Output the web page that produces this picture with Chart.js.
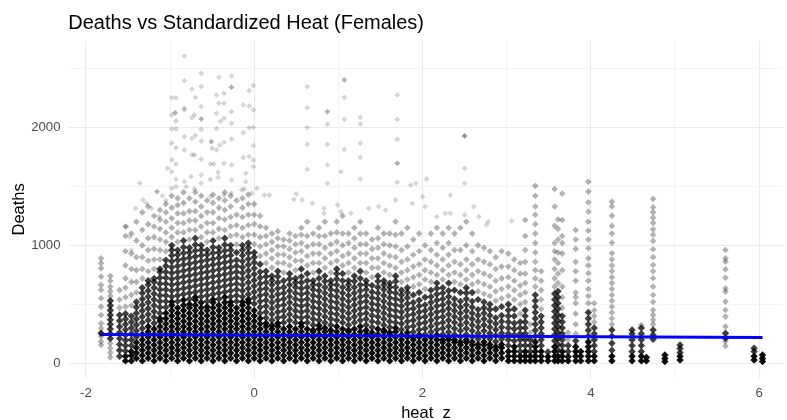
<!DOCTYPE html>
<html>
<head>
<meta charset="utf-8">
<script src="https://cdn.jsdelivr.net/npm/chart.js@4.4.1/dist/chart.umd.min.js"></script>
<style>
  html, body { margin: 0; padding: 0; background: #ffffff; overflow: hidden; }
  #wrap { width: 787px; height: 420px; position: relative; }
</style>
</head>
<body>
<div id="wrap"><canvas id="c" width="787" height="420"></canvas></div>
<script>
// ---------------- data ----------------
const chartTitle = "Deaths vs Standardized Heat (Females)";
const xTitle = "heat_z";
const yTitle = "Deaths";
const xGridValues = [-2, -1, 0, 1, 2, 3, 4, 5, 6];
const xTickValues = [-2, 0, 2, 4, 6];
const yGridValues = [0, 500, 1000, 1500, 2000, 2500];
const yTickValues = [0, 1000, 2000];

// columns of observations (heat_z position of each vertical stripe)
const stripeZ = [
  -1.82, -1.71, -1.60, -1.53,
  -1.46, -1.40, -1.33, -1.26, -1.19, -1.12, -1.05, -0.98, -0.91, -0.84, -0.77, -0.70,
  -0.63, -0.56, -0.49, -0.42, -0.35, -0.28, -0.21, -0.14, -0.07, 0.00, 0.07, 0.14,
  0.21, 0.28, 0.35, 0.42, 0.49, 0.56, 0.63, 0.70, 0.77, 0.84, 0.91, 0.98,
  1.05, 1.12, 1.19, 1.26, 1.33, 1.40, 1.47, 1.54, 1.61, 1.68, 1.75, 1.82,
  1.89, 1.96, 2.03, 2.10, 2.17, 2.24, 2.31, 2.38, 2.45, 2.52, 2.59, 2.66,
  2.73, 2.80, 2.87, 2.94,
  3.02, 3.09, 3.16, 3.22, 3.28, 3.34, 3.41, 3.49, 3.57, 3.61, 3.66, 3.73,
  3.82, 3.88, 3.97, 4.04, 4.25, 4.49, 4.60, 4.66, 4.74, 4.88, 5.06, 5.60, 5.94, 6.04
];

// densest (near-black) part of each stripe
const stripeCoreDeaths = [
  [], [], [], [20,60],
  [20,65,100], [42,87,132,177], [20,65,110,155,200,245], [42,87,132,177,222,267,312],
  [20,65,110,155,200,245,290], [42,87,132,177,222,267,312,357,380],
  [20,65,110,155,200,245,290,335,380,425], [42,87,132,177,222,267,312,357,402,447,492,520],
  [20,65,110,155,200,245,290,335,380,425,470], [42,87,132,177,222,267,312,357,402,447,492,537],
  [20,65,110,155,200,245,290,335,380,425,470,500], [42,87,132,177,222,267,312,357,402,447,492,537,560],
  [20,65,110,155,200,245,290,335,380,425,470,515], [42,87,132,177,222,267,312,357,402,447,480],
  [20,65,110,155,200,245,290,335,380,425,470,515,540], [42,87,132,177,222,267,312,357,402,447,492],
  [20,65,110,155,200,245,290,335,380,425,470,515,560], [42,87,132,177,222,267,312,357,402,447,492,520],
  [20,65,110,155,200,245,290,335,380,425,470], [42,87,132,177,222,267,312,357,402,447,492,520],
  [20,65,110,155,200,245,290,335,380,425,470,515,540], [42,87,132,177,222,267,312,357,402,447],
  [20,65,110,155,200,245,290,335,380], [42,87,132,177,222,267,312,340],
  [20,65,110,155,200,245,290,320], [42,87,132,177,222,267,312,340],
  [20,65,110,155,200,245,290], [42,87,132,177,222,267,312],
  [20,65,110,155,200,245,290], [42,87,132,177,222,267,312,340],
  [20,65,110,155,200,245,290], [42,87,132,177,222,267,280],
  [20,65,110,155,200,245,290,320], [42,87,132,177,222,267,300],
  [20,65,110,155,200,245,280], [42,87,132,177,222,267,312],
  [20,65,110,155,200,245,290], [42,87,132,177,222,267,280],
  [20,65,110,155,200,245,290], [42,87,132,177,222,267,312],
  [20,65,110,155,200,245,280], [42,87,132,177,222,260],
  [20,65,110,155,200,245,290], [42,87,132,177,222,267,280],
  [20,65,110,155,200,245,260], [42,87,132,177,222,267,300],
  [20,65,110,155,200,240], [42,87,132,177,222,260],
  [20,65,110,155,200,220], [42,87,132,177,222,240],
  [20,65,110,155,200], [42,87,132,177,220],
  [20,65,110,155,200,240], [42,87,132,177,200],
  [20,65,110,155,200,220], [42,87,132,177,200],
  [20,65,110,155,180], [42,87,132,177,200],
  [20,65,110,155,180], [42,87,132,160],
  [20,65,110,155,180], [42,87,132,160],
  [20,65,110,140], [42,87,132,160],
  [20,60,100], [20,60,100,140], [20,60], [20,60,100], [20,60], [20,60,100,140,180],
  [20,60,100], [20,55], [20,60,100,140], [20,60], [20,60,100], [20,55],
  [20,60,100,140], [20,60,100], [20,60,100,140,180], [20,60], [20,60], [20,60],
  [20,60], [20,50], [], [14,40,70], [28,60], [], [28,60], [14,40,70]
];

// dark grey body of each stripe
const stripeMidDeaths = [
  [254], [530,490,450,410,370,330,290,250,210], [60,110,160,210,260,310,360,410], [105,150,195,240,285,330,375,420],
  [150,200,250,300,350,400], [225,275,325,375,425,475,520], [295,345,395,445,495,545,595,640],
  [365,415,465,515,565,615,665,700], [340,390,440,490,540,590,640,690,720],
  [425,475,525,575,625,675,725,775,800], [475,525,575,625,675,725,775,825,875],
  [565,615,665,715,765,815,865,915,960,1000], [525,575,625,675,725,775,825,875,920,960],
  [585,635,685,735,785,835,885,935,985,1040], [545,595,645,695,745,795,845,895,940,980],
  [605,655,705,755,805,855,905,955,1005,1060], [565,615,665,715,765,815,865,915,960,1000],
  [525,575,625,675,725,775,825,875,920,960], [585,635,685,735,785,835,885,935,985,1040],
  [545,595,645,695,745,795,845,895,940,980], [605,655,705,755,805,855,905,955,1005,1060],
  [565,615,665,715,765,815,865,915,960,1000], [525,575,625,675,725,775,825,875,940],
  [565,615,665,715,765,815,865,915,960,1000], [585,635,685,735,785,835,885,935,980,1020],
  [505,555,605,655,705,755,805,855,900,940], [425,475,525,575,625,675,725,775,840],
  [385,435,485,535,585,635,685,735,780], [365,415,465,515,565,615,665,705,740],
  [385,435,485,535,585,635,685,735,780], [345,395,445,495,545,595,645,700],
  [365,415,465,515,565,615,665,715,760], [345,395,445,495,545,595,645,685,720],
  [385,435,485,535,585,635,685,735,800], [345,395,445,495,545,595,645,700,760],
  [325,375,425,475,525,575,625,665,700], [365,415,465,515,565,615,665,720,780],
  [345,395,445,495,545,595,645,695,740], [325,375,425,475,525,575,625,665,700],
  [365,415,465,515,565,615,665,715,760,800], [345,395,445,495,545,595,645,700,760],
  [325,375,425,475,525,575,625,665,700], [345,395,445,495,545,595,645,695,740],
  [365,415,465,515,565,615,665,720,780], [325,375,425,475,525,575,625,665,700],
  [305,355,405,455,505,555,605,660], [345,395,445,495,545,595,645,695,740],
  [325,375,425,475,525,575,625,665,700], [305,355,405,455,505,555,605,645,680],
  [345,395,445,495,545,595,645,695,740], [285,335,385,435,485,535,580,620],
  [305,355,405,455,505,555,600,640], [265,315,365,415,465,515,580],
  [285,335,385,435,485,535,600], [245,295,345,395,445,495,560],
  [265,315,365,415,465,515,565,620], [285,335,385,435,485,535,585,635,680],
  [245,295,345,395,445,495,545,595,640], [265,315,365,415,465,515,565,615,680],
  [245,295,345,395,445,495,545,620], [225,275,325,375,425,475,525,600],
  [245,295,345,395,445,495,545,595,640], [225,275,325,375,425,475,525,600],
  [205,255,305,355,405,455,540], [225,275,325,375,425,470,520],
  [205,255,305,355,405,455,500], [185,235,285,335,385,460], [205,255,305,355,405,480],
  [150,200,250,300,350,400,450,500], [190,240,290,340,400,460], [100,150,200,250,300,350],
  [150,200,250,300,350,400,450], [100,150,200], [230,280,330,380,430,480,530,580],
  [150,200,250,300,350,400], [95], [190,240,290,340,390,440,490,540,590],
  [110,160,210,260,310,360,410,460,510,560,610], [150,200,250,300,350,400], [100,150],
  [190], [], [230,280,330,380,430], [100,150,200,250,300], [110,170,230,283],
  [100,150,200,250,283], [100,150,200,250,300], [], [203,240,283], [], [90,125,155],
  [212,254], [100,127], []
];

// sparse light grey upper part of each stripe
const stripeLightDeaths = [
  [890,848,805,735,664,622,551,480,410,339,297,254,226,184,155],
  [740,700,650,610,570,170,130,90,50], [470,540,620], [480,560,640,720,830,950,1080,1160],
  [490,580,690,800,930,1100], [600,690,790,900,1040,1200], [720,800,900,1000,1130,1280],
  [780,870,960,1060,1180,1330], [800,880,970,1070,1160,1250], [880,960,1050,1140,1220,1300],
  [950,1030,1110,1200,1280,1350], [1070,1150,1230,1320,1420], [1030,1110,1190,1270,1340,1400],
  [1110,1190,1270,1360,1450], [1050,1130,1210,1290,1400], [1130,1210,1290,1370,1450],
  [1070,1160,1250,1330,1420], [1030,1110,1190,1280,1380], [1110,1190,1280,1360,1430],
  [1060,1140,1230,1320,1400], [1130,1220,1300,1380,1450], [1080,1160,1240,1330,1420],
  [1010,1090,1170,1260,1380], [1070,1150,1240,1320,1400], [1090,1170,1260,1350,1430],
  [1010,1090,1180,1260,1350], [910,990,1070,1160,1250], [850,930,1010,1080,1150],
  [810,890,960,1030,1100], [850,920,990,1060,1120], [770,850,920,990,1050],
  [830,900,970,1040,1100], [790,870,940,1010,1080], [870,950,1020,1090,1150],
  [830,910,990,1080,1200], [770,850,930,1010,1100], [850,930,1010,1080,1150],
  [810,890,980,1080,1200], [770,850,930,1010,1100], [870,950,1030,1110,1200],
  [830,910,1000,1100,1250], [770,850,930,1020,1100], [810,890,980,1060,1150],
  [850,930,1010,1100,1200], [770,850,930,1010,1100], [730,810,890,970,1050],
  [810,890,980,1060,1150], [770,850,930,1010,1100], [750,830,910,1000,1100],
  [810,900,990,1090,1200], [690,770,860,960,1100], [710,790,880,990,1150],
  [650,730,820,920,1050], [670,750,840,950,1100], [630,710,790,880,1000],
  [690,770,860,960,1100], [750,830,920,1020,1150], [710,790,880,980,1100],
  [750,830,920,1020,1150], [690,770,860,960,1100], [670,750,840,960,1150],
  [710,790,880,1000,1200], [670,750,840,950,1100], [610,690,780,880,1000],
  [590,670,760,860,980], [570,650,740,840,950], [530,610,700,800,900], [550,630,720,820,950],
  [570,650,730,820,930], [540,620,700,790,880], [420,500,580,660,760,850],
  [520,600,680,760,860,960,1080,1215], [260,330],
  [650,720,790,860,940,1020,1100,1180,1260,1330,1420,1505], [460,540,620,700,780], [],
  [650,720,800,880,950,1020,1165,1330,1478], [680,760,850,940,1050,1140,1220],
  [470,560,650,790,930,1020,1080,1215,1440], [200,260],
  [250,330,420,510,560,600,700,780,860,970,1050,1130], [],
  [510,570,630,700,763,830,890,975,1050,1125,1200,1286,1365,1456,1540], [350,400,450,509],
  [330,380,430,480,530,579,630,680,730,780,830,880,933,1023,1100,1165,1252,1330,1371],
  [], [325], [],
  [330,367,410,452,520,579,650,721,780,834,900,967,1037,1090,1136,1190,1235,1280,1323,1394],
  [], [], [147,184,311,396,452,523,608,636,726,797,862,890,961], [], []
];

// isolated high observations
const outlierZ = [
  -0.83,-0.63,-0.42,-0.27,-0.83,-0.74,-0.63,-0.36,-0.45,-0.27,-0.27,-0.06,-0.01,-0.98,-0.93,-0.70,
  -0.83,-0.83,-0.98,-0.94,-0.94,-0.63,-0.42,-0.36,-0.45,-0.27,-0.13,-0.06,-0.01,-0.93,-0.74,-0.71,
  -0.63,-0.63,-0.40,-0.36,-0.27,-0.98,-0.93,-0.63,-0.45,-0.13,-0.06,-0.01,-0.83,-0.74,-0.70,-0.63,
  -0.51,-0.51,-0.50,-0.45,-0.41,-0.36,-0.27,-0.98,-0.93,-0.83,-0.74,-0.71,-0.63,-0.01,-0.13,-0.06,
  -0.98,-0.93,-0.52,-0.48,-0.36,-0.27,-0.01,-0.01,-1.03,-0.98,-0.43,-0.10,-0.75,-0.63,-0.93,-0.83,
  -0.52,-0.43,-0.27,-0.10,-1.15,-0.98,-0.93,-0.81,-0.71,-0.63,-0.52,-0.36,-0.27,-0.15,-0.12,-0.03,
  0.03,0.12,0.18,
  -1.36,-1.41,-1.32,-1.28,-1.16,-1.22,-1.13,-1.52,-1.48,-1.46,-1.05,-1.09,
  0.63,0.63,0.63,0.63,0.63,0.87,0.87,0.87,0.87,0.87,0.87,1.07,1.07,1.07,1.07,1.07,1.03,
  1.26,1.26,1.26,1.26,1.26,1.70,1.70,1.70,1.70,1.70,1.70,2.50,2.50,2.50,2.50,2.50,
  1.86,1.92,2.05,2.33,3.06,0.47,0.50,
  0.57,0.69,0.83,0.83,0.99,1.03,1.15,1.36,1.48,1.56,1.68,1.88,2.00,2.03,2.17,2.27,2.33,2.50,2.61,2.67,2.76,2.78
];
const outlierDeaths = [
  2606,2459,2425,2437,2397,2326,2346,2290,2276,2341,2341,2312,2355,2253,2253,2256,
  2162,2150,2106,2125,2125,2177,2205,2205,2120,2134,2191,2182,2148,2055,2083,2106,
  2072,2072,2052,2078,2035,1987,1987,1984,1990,1956,1998,2001,1922,1908,1931,1885,
  1880,1880,1823,1809,1851,1874,1902,1866,1829,1809,1767,1767,1730,1846,1744,1753,
  1724,1690,1690,1690,1696,1682,1724,1668,1654,1625,1620,1611,1583,1597,1560,1540,
  1560,1577,1555,1540,1456,1484,1498,1498,1478,1526,1413,1427,1442,1470,1478,1442,
  1484,1427,1427,
  1526,1314,1385,1357,1456,1314,1244,1159,1074,961,1380,1420,
  2346,2168,1999,1857,1645,2134,2134,2027,1857,1682,1526,2403,2403,2256,2069,1815,1625,
  2086,2030,1866,1747,1563,2276,2069,1900,1696,1696,1535,1928,1928,1928,1654,1526,
  1512,1526,1563,1427,1207,1390,1436,
  1385,1357,1314,1272,1343,1286,1272,1314,1329,1300,1385,1357,1413,1329,1244,1272,1272,1258,1329,1244,1173,1201
];

// fitted trend (blue line)
const trendZ = [-1.82, 6.04];
const trendDeaths = [244, 219];

// ---------------- build the chart ----------------
function stripePoints(lists) {
  const pts = [];
  stripeZ.forEach((z, i) => (lists[i] || []).forEach(d => pts.push({ x: z, y: d })));
  return pts;
}
const outlierPoints = outlierZ.map((z, i) => ({ x: z, y: outlierDeaths[i] }));
const trendPoints = trendZ.map((z, i) => ({ x: z, y: trendDeaths[i] }));

const FONT = "'Liberation Sans', Arial, Helvetica, sans-serif";
function pointSet(data, alpha, radius, order) {
  const col = 'rgba(0,0,0,' + alpha + ')';
  return { type: 'scatter', data, pointStyle: 'rectRot', pointRadius: radius, pointHoverRadius: radius,
           pointBorderWidth: 0, borderWidth: 0, backgroundColor: col, pointBackgroundColor: col, order };
}

const titlePlugin = {
  id: 'ggTitle',
  afterDraw(chart) {
    const ctx = chart.ctx;
    ctx.save();
    ctx.font = "20px " + FONT;
    ctx.fillStyle = '#000000';
    ctx.textAlign = 'left';
    ctx.textBaseline = 'alphabetic';
    ctx.fillText(chartTitle, 68.3, 29.3);
    ctx.restore();
  }
};

const majorX = v => xTickValues.includes(v);
const majorY = v => yTickValues.includes(v);

new Chart(document.getElementById('c'), {
  type: 'scatter',
  data: {
    datasets: [
      { type: 'line', data: trendPoints, borderColor: '#0000ff', borderWidth: 3, pointRadius: 0, fill: false, tension: 0, order: 0 },
      pointSet(outlierPoints, 0.17, 2.9, 1),
      pointSet(stripePoints(stripeCoreDeaths), 0.95, 3.7, 2),
      pointSet(stripePoints(stripeMidDeaths), 0.76, 3.7, 3),
      pointSet(stripePoints(stripeLightDeaths), 0.3, 3.3, 4)
    ]
  },
  options: {
    responsive: false,
    animation: false,
    events: [],
    layout: { padding: { top: 40.7, right: 0, bottom: 0, left: 0 } },
    plugins: { legend: { display: false }, tooltip: { enabled: false }, title: { display: false } },
    scales: {
      x: {
        type: 'linear',
        min: -2.207, max: 6.287,
        border: { display: false },
        afterBuildTicks: s => { s.ticks = xGridValues.map(v => ({ value: v })); },
        grid: {
          drawTicks: false,
          color: c => majorX(c.tick.value) ? '#ebebeb' : '#f1f1f1',
          lineWidth: c => majorX(c.tick.value) ? 1.1 : 0.8
        },
        ticks: {
          autoSkip: false, maxRotation: 0, padding: 7,
          color: '#4d4d4d', font: { family: FONT, size: 13.2 },
          callback: v => majorX(v) ? String(v) : ''
        },
        title: { display: true, text: xTitle, color: '#000000', font: { family: FONT, size: 16.5, lineHeight: 1.2 }, padding: { top: 0, bottom: -3.2 } },
        afterFit: s => { s.height = 42; }
      },
      y: {
        type: 'linear',
        min: -125, max: 2736,
        border: { display: false },
        afterBuildTicks: s => { s.ticks = yGridValues.map(v => ({ value: v })); },
        grid: {
          drawTicks: false,
          color: c => majorY(c.tick.value) ? '#ebebeb' : '#f1f1f1',
          lineWidth: c => majorY(c.tick.value) ? 1.1 : 0.8
        },
        ticks: {
          autoSkip: false, padding: 8,
          color: '#4d4d4d', font: { family: FONT, size: 13.2 },
          callback: v => majorY(v) ? String(v) : ''
        },
        title: { display: true, text: yTitle, color: '#000000', font: { family: FONT, size: 16.5, lineHeight: 1.2 }, padding: { top: 9.4, bottom: 0 } },
        afterFit: s => { s.width = 68.5; }
      }
    }
  },
  plugins: [titlePlugin]
});
</script>
</body>
</html>
